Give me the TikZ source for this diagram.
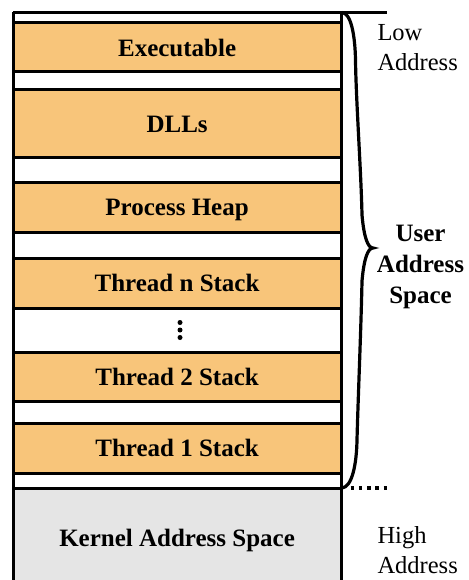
\documentclass[tikz,border=0pt]{standalone}
\usepackage{fontspec}
\setmainfont{Liberation Serif}
\definecolor{bandorange}{HTML}{F8C57A}
\definecolor{kernelgray}{HTML}{E5E5E5}
\begin{document}
\begin{tikzpicture}[x=1pt,y=-1pt,line width=3pt,
  band/.style={draw=black,fill=bandorange,rectangle,inner sep=0pt,
    text height=17.4pt,text depth=0pt,
    minimum width=327.8pt,font=\fontsize{25}{30}\selectfont\bfseries},
  kband/.style={band,fill=kernelgray},
  sidelabel/.style={inner sep=0pt,align=left,anchor=west,
    font=\fontsize{24.5}{29.5}\selectfont},
  userlabel/.style={inner sep=0pt,align=center,
    font=\fontsize{25}{31}\selectfont\bfseries},
  vdot/.style={circle,fill=black,inner sep=0pt,minimum size=5pt}]
\useasboundingbox (0,0) rectangle (468,580);
% frame
\coordinate (tl) at (13.2,12.5);
\coordinate (tr) at (387,12.5);
\coordinate (bl) at (13.2,590);
\coordinate (br) at (341,590);
\coordinate (rt) at (341,12.5);
\draw (bl) -- (tl);
\draw (br) -- (rt);
% bands
\node[band,minimum height=49pt] (exe) at (177.1,47.5) {Executable};
\node[band,minimum height=68pt] (dll) at (177.1,124) {DLLs};
\node[band,minimum height=50pt] (heap) at (177.1,207) {Process Heap};
\node[band,minimum height=50pt] (tn) at (177.1,283) {Thread n Stack};
\node[band,minimum height=49pt] (t2) at (177.1,376.5) {Thread 2 Stack};
\node[band,minimum height=50pt] (t1) at (177.1,448) {Thread 1 Stack};
\node[kband,minimum height=98pt] (kern) at (177.1,537.5) {Kernel Address Space};
\draw (tl) -- (tr);
% vertical dots
\node[vdot] (d1) at (180,322.5) {};
\node[vdot] (d2) at (180,330) {};
\node[vdot] (d3) at (180,337.5) {};
% brace
\coordinate (btop) at (342,12.5);
\coordinate (btip) at (373,248);
\coordinate (bbot) at (342,488);
\draw[line width=3.2pt,line cap=round]
  (btop) .. controls (351,13) and (355,35) .. (355.5,60)
  .. controls (356,100) and (361,170) .. (362,215)
  .. controls (364,238) and (368,248) .. (btip)
  .. controls (368,248) and (364,258) .. (362,281)
  .. controls (361,330) and (358,400) .. (357,440)
  .. controls (356.5,465) and (352,487) .. (bbot);
% dotted extension
\coordinate (dotend) at (389,488);
\coordinate (dotstart) at (350.5,488);
\draw[line width=4pt,dash pattern=on 3.5pt off 4.8pt] (dotstart) -- (dotend);
% labels
\node[sidelabel] (low) at (376,47.5) {Low\\Address};
\node[sidelabel] (high) at (376,550) {High\\Address};
\node[userlabel] (user) at (420.5,266.5) {User\\Address\\Space};
\end{tikzpicture}
\end{document}
